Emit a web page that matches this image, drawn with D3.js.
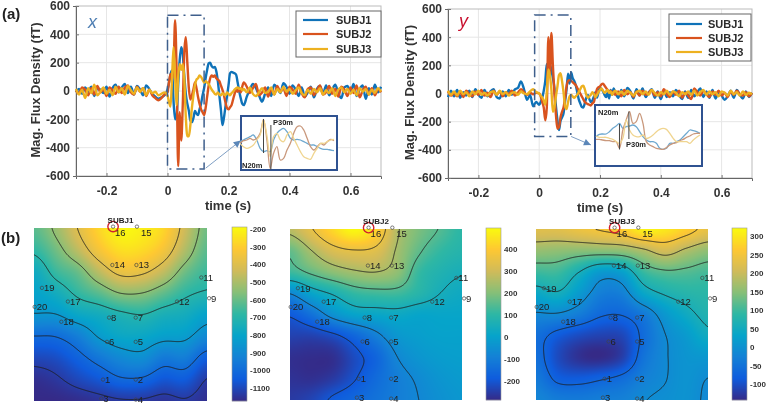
<!DOCTYPE html>
<html><head><meta charset="utf-8">
<script src="https://cdnjs.cloudflare.com/ajax/libs/d3/7.8.5/d3.min.js"></script>
<style>
html,body{margin:0;padding:0;background:#fff;overflow:hidden}
svg{display:block;font-family:"Liberation Sans",Arial,sans-serif;filter:blur(0.45px)}
</style></head><body>
<svg id="c" width="770" height="407"></svg>
<script>
// ---------- time base (s) ----------
const timePre  = d3.range(30).map(i => -0.30 + i*0.01);
const timeMid  = d3.range(50).map(i => i*0.005);
const timePost = d3.range(46).map(i => 0.25 + i*0.01);
const times = timePre.concat(timeMid, timePost);

const seriesNames = ["SUBJ1","SUBJ2","SUBJ3"];
const seriesColors = ["#0f72b8","#d9531e","#edb120"];
const fluxTicks = [-600,-400,-200,0,200,400,600];
const timeTicks = [-0.2,0,0.2,0.4,0.6];
const gridTimes = [-0.2,0,0.2,0.4,0.6];

// ---------- x panel (fT) ----------
const xSubj1 = [-10,15,-20,25,-5,30,-35,20,10,-15,30,-40,20,45,-10,25,50,-15,30,-25,35,10,-30,40,15,-20,-40,-55,-45,-30,
 10,60,120,145,-80,-200,-170,40,220,310,260,110,-20,-90,-140,-210,-220,-190,-140,-160,-170,-130,-90,-30,20,90,150,195,200,175,165,170,140,70,-30,-130,-240,-190,-110,-40,40,125,135,130,125,115,60,0,-50,-90,
 -100,-40,10,50,20,-30,-75,-20,25,-35,45,20,-15,55,30,-20,40,10,-35,25,-40,-10,30,-45,15,35,-20,40,-30,10,45,-15,-50,25,35,-10,50,-35,15,40,-55,20,-25,45,-10,30];
const xSubj2 = [5,-20,25,10,-30,20,-25,35,-10,15,-35,25,5,-20,30,-15,25,40,-10,-25,30,-5,20,-35,10,-30,-50,-65,-50,-25,
 -10,60,120,80,180,500,120,-530,-150,-350,-100,270,380,200,20,-60,-30,10,60,20,-40,-90,-130,-150,-170,-120,-40,40,90,110,100,110,90,80,70,40,10,-30,-80,-120,-130,-115,-100,-60,-20,10,-5,20,-10,30,
 60,30,-15,20,50,-30,-10,25,-40,15,-25,35,-5,20,-35,30,10,-20,45,-15,-45,15,25,-30,5,40,-25,-10,35,-20,15,-40,30,10,-35,25,-15,40,-45,5,30,-25,20,-30,15,-10];
const xSubj3 = [15,-25,10,-50,20,-15,45,-30,-5,25,-20,10,-30,30,-10,20,-25,35,5,-20,25,-5,20,-30,10,-15,-5,-30,-20,-10,
 -30,-80,-110,100,310,90,-100,100,190,150,190,90,-180,-320,-320,-240,-120,-30,40,80,90,110,100,80,60,70,60,50,30,10,-5,-20,-25,-10,-25,-30,-15,-25,-30,-10,-20,-30,-15,-5,10,20,25,15,20,5,
 15,-10,25,-20,-35,-10,20,-15,-5,25,-25,15,-10,30,-5,15,-20,5,25,-15,-30,10,-20,15,-10,20,-25,5,-15,20,-35,10,25,-10,15,-20,10,-30,20,-5,15,-25,10,-15,20,-5];

// ---------- y panel (fT) ----------
const ySubj1 = [-25,20,-20,25,-30,10,-15,20,-25,30,-10,-30,25,-20,15,30,-25,-35,15,-20,25,-10,30,40,85,30,-45,-10,-90,-60,
 -80,-60,-30,20,90,210,160,205,170,110,40,-90,-190,-260,-195,-170,-140,-60,30,140,70,150,110,90,60,10,-40,-70,-95,-100,-70,-30,-10,-40,-60,-50,-20,10,-30,10,40,30,15,-10,-25,5,-35,25,-10,35,
 10,-30,25,-20,40,15,-35,30,-15,35,-25,5,30,-30,15,-40,20,-25,10,-20,25,-10,-40,15,-30,25,-20,10,35,-25,15,-30,25,-35,10,-15,-45,-20,20,-30,25,-10,-35,15,-25,5];
const ySubj2 = [15,-15,5,-20,10,-25,20,-5,-20,15,-10,25,-15,5,-25,20,-10,15,-20,10,-5,20,-15,5,30,10,-10,5,-5,5,
 0,-20,-60,-100,-190,-100,400,120,430,200,0,-150,-250,-240,-170,-130,-100,-30,50,90,95,90,80,70,60,40,20,0,-20,-40,-60,-70,-75,-80,-85,-70,-60,-10,30,45,50,65,70,55,40,25,10,20,-5,15,
 -10,15,-20,25,-5,10,-25,15,-15,20,-10,5,25,-15,10,-20,30,-5,-25,15,-10,20,-30,5,-15,-40,35,10,-15,20,-5,-25,15,-10,20,-15,5,-25,15,-10,20,-5,-15,10,-20,5];
const ySubj3 = [20,-10,15,-15,20,-5,10,-20,15,-5,20,-10,5,-15,10,15,-10,20,-5,10,-15,5,10,-10,15,0,-5,15,30,10,
 0,-15,-30,-50,-80,10,170,130,30,-130,-100,-20,50,130,145,90,10,-90,-110,-60,-20,-10,-20,-30,-20,-10,10,30,50,55,30,-10,-30,-20,-10,10,-5,-25,-10,10,25,35,20,5,15,25,5,15,-10,10,
 20,-5,15,-10,20,5,-15,10,20,-5,15,-10,25,5,-15,10,-5,20,-10,15,5,-20,10,-5,15,-10,20,-15,10,25,-10,15,-5,10,-20,15,5,-15,20,-5,10,-15,15,-10,5,-5];

// ---------- inset traces (relative amplitude) ----------
const insetXBlue   = [85,90,95,100,105,90,65,55,58,55,90,110,120,125,115,95,90,92,90,85,80,75,75,70,65,62,62,60,58];
const insetXOrange = [80,88,90,95,90,95,110,152,90,5,50,70,30,35,60,80,110,130,132,120,95,70,60,70,80,75,85,92,88];
const insetXYellow = [80,70,65,68,75,90,105,150,105,40,100,110,90,85,105,115,95,75,55,40,35,32,50,65,80,80,85,90,92];
const insetYBlue   = [88,95,96,96,103,113,120,128,113,118,120,123,118,103,88,78,73,73,68,53,50,53,68,68,73,78,88,98,108,106,103,98];
const insetYOrange = [80,80,78,76,76,73,73,53,108,138,163,128,133,158,128,73,63,58,53,51,50,55,63,68,70,76,80,86,90,96,98,98];
const insetYYellow = [90,86,86,86,83,80,73,68,83,138,108,93,88,88,93,83,86,93,103,110,113,110,98,83,73,73,73,73,68,78,86,93];
const insetColors = ["#6ea8cf","#c9987c","#f0d590"];

// ---------- sensor map ----------
const sensorNames = ["16","15","14","13","11","9","12","19","17","20","8","7","18","6","5","1","2","3","4"];
const sensorU = [.457,.595,.453,.592,.967,1.012,.827,.046,.196,.004,.434,.588,.158,.422,.588,.399,.588,.389,.588];
const sensorV = [-.008,-.008,.214,.214,.286,.406,.425,.346,.425,.456,.518,.518,.542,.658,.658,.876,.876,.986,.992];

const map1Rows = [
 [-620,-530,-400,-280,-200,-220,-280,-440,-590],
 [-680,-590,-470,-340,-260,-270,-340,-490,-620],
 [-770,-665,-600,-470,-370,-380,-460,-590,-660],
 [-810,-760,-680,-620,-548,-550,-610,-680,-710],
 [-855,-852,-790,-760,-720,-700,-740,-760,-810],
 [-1000,-995,-937,-840,-790,-790,-820,-830,-900],
 [-1100,-1085,-1030,-960,-900,-880,-950,-940,-1040],
 [-1160,-1140,-1100,-1060,-1010,-1010,-1060,-1050,-1130],
 [-1174,-1174,-1165,-1150,-1135,-1135,-1150,-1135,-1160]];
const map1Levels = [-400,-550,-700,-850,-1000,-1130];
const map1Ticks = [-200,-300,-400,-500,-600,-700,-800,-900,-1000,-1100];
const map1Range = [-1174,-190];

const map2Rows = [
 [270,345,430,490,420,260,190,145,100],
 [165,250,320,345,330,240,160,110,85],
 [120,165,210,240,250,215,115,75,55],
 [-70,10,60,110,125,125,90,50,30],
 [-190,-130,-45,5,15,25,10,12,12],
 [-240,-240,-215,-160,-95,-30,-10,0,0],
 [-275,-280,-275,-220,-165,-75,-35,-15,-8],
 [-270,-275,-255,-205,-150,-100,-65,-35,-20],
 [-255,-235,-190,-160,-130,-100,-75,-48,-30]];
const map2Levels = [350,250,150,50,-75,-200];
const map2Ticks = [400,300,200,100,0,-100,-200];
const map2Range = [-286,495];

const map3Rows = [
 [225,225,240,253,270,310,300,270,235],
 [160,155,150,150,155,180,210,180,155],
 [100,100,60,15,25,95,118,115,105],
 [40,55,15,-30,-28,35,65,80,85],
 [-15,-15,-35,-65,-68,-40,10,45,72],
 [-55,-85,-105,-115,-110,-60,-12,15,48],
 [-55,-105,-135,-142,-120,-50,-14,5,10],
 [-40,-80,-85,-75,-60,-30,-12,3,-10],
 [-20,-35,-38,-32,-28,-12,-4,2,-15]];
const map3Levels = [250,190,125,60,-10,-70];
const map3Ticks = [300,250,200,150,100,50,0,-50,-100];
const map3Range = [-143,322];

const parula = ["#352a87","#0f5cdd","#1481d6","#06a4ca","#2eb7a4","#87bf77","#d1bb59","#fec832","#f9fb0e"];
const parulaFn = d3.piecewise(d3.interpolateRgb, parula);

const svg = d3.select("#c");
svg.append("rect").attr("width",770).attr("height",407).attr("fill","#fff");
const defs = svg.append("defs");
const ink = "#333";
const plain = d => String(d);

// ---------- waveform panel ----------
function panel(o){
  const x = d3.scaleLinear().domain([-0.3,0.7]).range([o.l,o.r]);
  const y = d3.scaleLinear().domain([-600,600]).range([o.b,o.t]);
  const g = svg.append("g");
  g.selectAll("line.gx").data(gridTimes).join("line").attr("x1",x).attr("x2",x).attr("y1",o.t).attr("y2",o.b).attr("stroke","#e6e6e6");
  g.selectAll("line.gy").data(fluxTicks.slice(1,-1)).join("line").attr("x1",o.l).attr("x2",o.r).attr("y1",y).attr("y2",y).attr("stroke","#e6e6e6");
  g.append("rect").attr("x",o.l).attr("y",o.t).attr("width",o.r-o.l).attr("height",o.b-o.t).attr("fill","none").attr("stroke","#bbb");

  const ax = g.append("g").attr("transform",`translate(0,${o.b})`)
    .call(d3.axisBottom(x).tickValues(timeTicks).tickSize(3).tickPadding(7).tickFormat(plain));
  const ay = g.append("g").attr("transform",`translate(${o.l},0)`)
    .call(d3.axisLeft(y).tickValues(fluxTicks).tickSize(3).tickPadding(3).tickFormat(plain));
  [ax,ay].forEach(a=>{
    a.selectAll("text").attr("font-size",12).attr("font-weight","bold").attr("fill",ink).attr("font-family","Liberation Sans");
    a.selectAll("line").attr("stroke","#777");
    a.select(".domain").attr("stroke","#666");
  });
  ax.selectAll(".tick line").attr("y2",-3);
  ay.selectAll(".tick line").attr("x2",3);

  const line = d3.line().x((d,i)=>x(times[i])).y(d=>y(d)).curve(d3.curveMonotoneX);
  g.selectAll("path.wave").data(o.series).join("path").attr("class","wave")
    .attr("d",line).attr("fill","none").attr("stroke",(d,i)=>seriesColors[i]).attr("stroke-width",2.4).attr("stroke-linejoin","round");

  // dash-dot window
  g.append("rect").attr("x",x(o.win[0])).attr("y",y(o.win[3])).attr("width",x(o.win[1])-x(o.win[0])).attr("height",y(o.win[2])-y(o.win[3]))
    .attr("fill","none").attr("stroke","#3f5f8c").attr("stroke-width",1.5).attr("stroke-dasharray","11 5 2 5");

  // arrow
  const a0=[x(o.arrow[0]),y(o.arrow[1])], a1=[x(o.arrow[2]),y(o.arrow[3])];
  const ang=Math.atan2(a1[1]-a0[1],a1[0]-a0[0]);
  g.append("line").attr("x1",a0[0]).attr("y1",a0[1]).attr("x2",a1[0]).attr("y2",a1[1]).attr("stroke","#7f9fc4").attr("stroke-width",1);
  g.append("path").attr("fill","#5b86b8")
    .attr("d",d3.line()([[a1[0],a1[1]],
      [a1[0]-7*Math.cos(ang)-3.5*Math.sin(ang),a1[1]-7*Math.sin(ang)+3.5*Math.cos(ang)],
      [a1[0]-7*Math.cos(ang)+3.5*Math.sin(ang),a1[1]-7*Math.sin(ang)-3.5*Math.cos(ang)]])+"Z");

  // inset
  const b=o.inset;
  g.append("rect").attr("x",b.x0).attr("y",b.y0).attr("width",b.x1-b.x0).attr("height",b.y1-b.y0).attr("fill","#fff").attr("stroke","#2f5291").attr("stroke-width",2);
  const ix=d3.scaleLinear().domain([0,b.n-1]).range([b.cx0,b.cx1]);
  const iy=d3.scaleLinear().domain([0,b.amp]).range([b.y1,b.y0]);
  const il=d3.line().x((d,i)=>ix(i)).y(d=>iy(d)).curve(d3.curveCatmullRom);
  g.selectAll("path.iw").data(b.traces).join("path").attr("class","iw").attr("d",il).attr("fill","none")
    .attr("stroke",(d,i)=>insetColors[i]).attr("stroke-width",1.3);
  b.marks.forEach(m=>{
    g.append("line").attr("x1",ix(m[0])).attr("x2",ix(m[0])).attr("y1",iy(m[1])).attr("y2",iy(m[2])).attr("stroke","#444").attr("stroke-width",1);
  });
  b.labels.forEach(l=>{
    g.append("text").attr("x",l[1]).attr("y",l[2]).attr("font-size",7.5).attr("font-weight","bold").attr("fill","#222").text(l[0]);
  });

  // legend
  const L=o.legend;
  g.append("rect").attr("x",L.x0).attr("y",L.y0).attr("width",L.x1-L.x0).attr("height",L.y1-L.y0).attr("fill","#fff").attr("stroke","#666");
  seriesNames.forEach((n,i)=>{
    const yy=L.ys[i];
    g.append("line").attr("x1",L.lx0).attr("x2",L.lx1).attr("y1",yy).attr("y2",yy).attr("stroke",seriesColors[i]).attr("stroke-width",2.2);
    g.append("text").attr("x",L.tx).attr("y",yy+4).attr("font-size",11).attr("font-weight","bold").attr("fill","#2b2b2b").text(n);
  });

  // labels
  g.append("text").attr("transform",`translate(${o.yl},${(o.t+o.b)/2-1}) rotate(-90)`).attr("text-anchor","middle")
    .attr("font-size",13).attr("font-weight","bold").attr("fill",ink).text("Mag. Flux Density (fT)");
  g.append("text").attr("x",o.xl).attr("y",o.b+34).attr("text-anchor","middle").attr("font-size",13).attr("font-weight","bold").attr("fill",ink).text("time (s)");
  g.append("text").attr("x",o.tag[1]).attr("y",o.tag[2]).attr("font-size",18).attr("font-style","italic").attr("fill",o.tag[3]).text(o.tag[0]);
}

panel({l:76,r:381,t:6,b:176,series:[xSubj1,xSubj2,xSubj3],win:[0,0.12,-550,535],arrow:[0.125,-545,0.24,-350],
  yl:40,xl:228,tag:["x",88,28,"#4f7fb3"],
  legend:{x0:296,y0:11,x1:381,y1:57,lx0:303,lx1:328,tx:336,ys:[20,34,49]},
  inset:{x0:241,y0:116,x1:337,y1:170,cx0:240,cx1:334,n:29,amp:54,traces:[insetXBlue,insetXOrange,insetXYellow].map(a=>a.map(v=>v/3)),
    marks:[[7,51,17],[9.2,45,0.5]],labels:[["P30m",273,125],["N20m",242,168]]}});
panel({l:448,r:752,t:9,b:178,series:[ySubj1,ySubj2,ySubj3],win:[-0.015,0.104,-305,557],arrow:[0.105,-305,0.17,-365],
  yl:414,xl:600,tag:["y",459,27,"#c8102e"],
  legend:{x0:669,y0:14,x1:751,y1:61,lx0:676,lx1:702,tx:708,ys:[24,38,52]},
  inset:{x0:595,y0:105,x1:702,y1:166,cx0:596,cx1:700,n:32,amp:61,traces:[insetYBlue,insetYOrange,insetYYellow].map(a=>a.map(v=>v/3)),
    marks:[[7,42,16.5],[9.8,27,54.5]],labels:[["N20m",598,115],["P30m",626,147]]}});

// ---------- heat maps ----------
function catmull(p0,p1,p2,p3,t){
  return 0.5*((2*p1)+(-p0+p2)*t+(2*p0-5*p1+4*p2-p3)*t*t+(-p0+3*p1-3*p2+p3)*t*t*t);
}
function sampler(rows){
  const nr=rows.length,nc=rows[0].length;
  const R=i=>Math.max(0,Math.min(nr-1,i)),C=i=>Math.max(0,Math.min(nc-1,i));
  return (u,v)=>{
    const fx=Math.max(0,Math.min(1,u))*(nc-1),fy=Math.max(0,Math.min(1,v))*(nr-1);
    const ix=Math.min(nc-2,Math.floor(fx)),iy=Math.min(nr-2,Math.floor(fy));
    const tx=fx-ix,ty=fy-iy,col=[];
    for(let j=-1;j<=2;j++){
      const r=rows[R(iy+j)];
      col.push(catmull(r[C(ix-1)],r[C(ix)],r[C(ix+1)],r[C(ix+2)],tx));
    }
    return catmull(col[0],col[1],col[2],col[3],ty);
  };
}
function heat(o,idx){
  const w=o.x1-o.x0,h=o.y1-o.y0,f=sampler(o.rows);
  const color=d3.scaleLinear().domain(o.range).range([0,1]).clamp(true);
  const cv=document.createElement("canvas");cv.width=w;cv.height=h;
  const ctx=cv.getContext("2d"),img=ctx.createImageData(w,h);
  for(let j=0;j<h;j++)for(let i=0;i<w;i++){
    const c=d3.rgb(parulaFn(color(f(i/(w-1),j/(h-1))))),k=4*(j*w+i);
    img.data[k]=c.r;img.data[k+1]=c.g;img.data[k+2]=c.b;img.data[k+3]=255;
  }
  ctx.putImageData(img,0,0);
  const g=svg.append("g");
  g.append("image").attr("x",o.x0).attr("y",o.y0).attr("width",w).attr("height",h).attr("href",cv.toDataURL());

  // contours on a slightly wider grid, clipped so no border edge shows
  const pad=4,W=w+2*pad,H=h+2*pad,vals=new Array(W*H);
  for(let j=0;j<H;j++)for(let i=0;i<W;i++)vals[j*W+i]=f((i-pad)/(w-1),(j-pad)/(h-1));
  const cid="clip"+idx;
  defs.append("clipPath").attr("id",cid).append("rect").attr("x",o.x0).attr("y",o.y0).attr("width",w).attr("height",h);
  const polys=d3.contours().size([W,H]).thresholds(o.levels)(vals);
  g.append("g").attr("clip-path",`url(#${cid})`).append("g").attr("transform",`translate(${o.x0-pad},${o.y0-pad})`)
    .selectAll("path").data(polys).join("path").attr("d",d3.geoPath()).attr("fill","none").attr("stroke","#1c1c1c").attr("stroke-opacity",.85).attr("stroke-width",1);

  // sensors
  const su=d3.scaleLinear().domain([0,1]).range([o.x0,o.x1]),sv=d3.scaleLinear().domain([0,1]).range([o.y0,o.y1]);
  sensorNames.forEach((n,i)=>{
    const cx=su(sensorU[i]),cy=sv(sensorV[i]);
    g.append("circle").attr("cx",cx).attr("cy",cy).attr("r",1.7).attr("fill","none").attr("stroke","#444").attr("stroke-width",.7);
    const top=n==="16"||n==="15";
    g.append("text").attr("x",cx+(n==="15"?4:2)).attr("y",cy+(top?9.5:3.4)).attr("font-size",9.5).attr("fill","#222").text(n);
  });
  g.append("circle").attr("cx",su(sensorU[0])).attr("cy",sv(sensorV[0])).attr("r",5.2).attr("fill","none").attr("stroke","#d0202e").attr("stroke-width",1.4);
  g.append("text").attr("x",su(0.5)).attr("y",o.y0-5).attr("text-anchor","middle").attr("font-size",8).attr("font-weight","bold").attr("fill","#222").text(o.name);

  // colour bar
  const b=d3.scaleLinear().domain(o.range).range([o.by1,o.by0]);
  const steps=d3.range(o.by0,o.by1);
  g.selectAll("rect.cb").data(steps).join("rect").attr("x",o.bx0).attr("y",d=>d).attr("width",o.bx1-o.bx0).attr("height",1.2)
    .attr("fill",d=>parulaFn(color(b.invert(d+.5))));
  g.append("rect").attr("x",o.bx0).attr("y",o.by0).attr("width",o.bx1-o.bx0).attr("height",o.by1-o.by0).attr("fill","none").attr("stroke","#999").attr("stroke-width",.6);
  const ca=g.append("g").attr("transform",`translate(${o.bx1},0)`).call(d3.axisRight(b).tickValues(o.ticks).tickSize(0).tickPadding(3).tickFormat(plain));
  ca.select(".domain").remove();
  ca.selectAll("text").attr("font-size",8).attr("font-weight","bold").attr("fill","#333").attr("font-family","Liberation Sans");
}
heat({name:"SUBJ1",x0:34,x1:207,y0:228,y1:401,rows:map1Rows,levels:map1Levels,range:map1Range,ticks:map1Ticks,bx0:232,bx1:247,by0:227,by1:401},1);
heat({name:"SUBJ2",x0:290,x1:462,y0:229,y1:400,rows:map2Rows,levels:map2Levels,range:map2Range,ticks:map2Ticks,bx0:486,bx1:501,by0:228,by1:400},2);
heat({name:"SUBJ3",x0:536,x1:708,y0:229,y1:400,rows:map3Rows,levels:map3Levels,range:map3Range,ticks:map3Ticks,bx0:732,bx1:747,by0:228,by1:400},3);

// panel tags
svg.append("text").attr("x",2).attr("y",19).attr("font-size",15).attr("font-weight","bold").attr("fill","#222").text("(a)");
svg.append("text").attr("x",1).attr("y",243).attr("font-size",15).attr("font-weight","bold").attr("fill","#222").text("(b)");
</script>
</body></html>
